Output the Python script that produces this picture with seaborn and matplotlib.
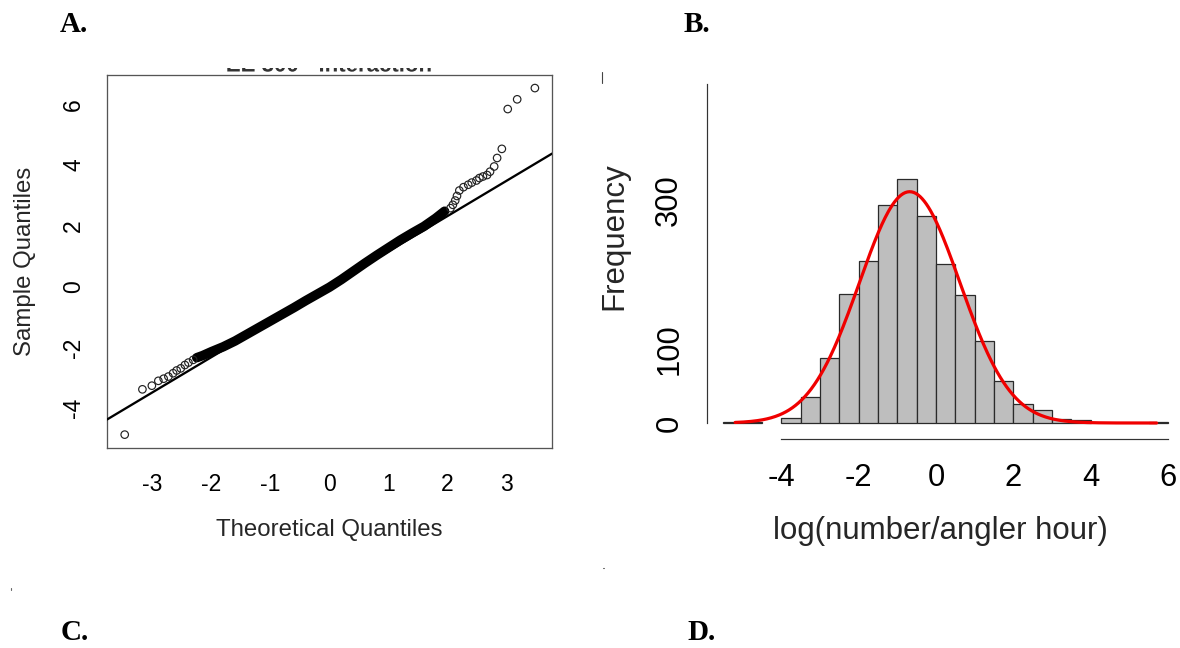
import numpy as np
import pandas as pd
import matplotlib
matplotlib.use("Agg")
import matplotlib.pyplot as plt
import seaborn as sns
from matplotlib.lines import Line2D
from matplotlib.patches import PathPatch
from matplotlib.textpath import TextPath
from matplotlib.font_manager import FontProperties
from matplotlib.transforms import Affine2D

# ---------------- Panel A: normal Q-Q plot ----------------
QQ_TITLE = "EE 300 - interaction"
QQ_TAIL_LOW_THEO = [-3.47, -3.17, -3.01, -2.90, -2.81, -2.73, -2.65, -2.59, -2.52, -2.45, -2.39, -2.31]
QQ_TAIL_LOW_SAMPLE = [-4.87, -3.38, -3.26, -3.10, -3.03, -2.96, -2.85, -2.76, -2.69, -2.58, -2.50, -2.41]
QQ_BAND_THEO = [-2.25, -2.15, -2.00, -1.80, -1.60, -1.40, -1.20, -1.00, -0.80, -0.60, -0.40, -0.20,
                0.00, 0.20, 0.40, 0.60, 0.80, 1.00, 1.20, 1.40, 1.60, 1.80, 1.95]
QQ_BAND_SAMPLE = [-2.34, -2.27, -2.14, -1.98, -1.79, -1.57, -1.35, -1.13, -0.91, -0.69, -0.46, -0.24,
                  -0.02, 0.23, 0.50, 0.77, 1.03, 1.28, 1.53, 1.76, 1.98, 2.25, 2.48]
QQ_TAIL_HIGH_THEO = [2.05, 2.09, 2.13, 2.16, 2.20, 2.27, 2.35, 2.41, 2.49, 2.54, 2.60, 2.67, 2.72,
                     2.79, 2.84, 2.92, 3.02, 3.18, 3.48]
QQ_TAIL_HIGH_SAMPLE = [2.58, 2.69, 2.83, 2.98, 3.16, 3.27, 3.35, 3.42, 3.49, 3.57, 3.62, 3.67, 3.78,
                       3.95, 4.23, 4.53, 5.84, 6.16, 6.53]
QQ_LINE_INTERCEPT = 0.0
QQ_LINE_SLOPE = 1.16
QQ_XTICKS = [-3, -2, -1, 0, 1, 2, 3]
QQ_YTICKS = [-4, -2, 0, 2, 4, 6]
QQ_XLABEL = "Theoretical Quantiles"
QQ_YLABEL = "Sample Quantiles"

# ---------------- Panel B: histogram with fitted normal curve ----------------
HIST_BIN_START = -5.5
HIST_BIN_WIDTH = 0.5
HIST_COUNTS = [1, 1, 0, 7, 35, 88, 173, 218, 293, 328, 278, 214, 172, 110, 56, 25, 17, 6, 4, 0, 0, 0, 2]
FIT_MEAN = -0.68
FIT_SD = 1.30
CURVE_X_MIN = -5.19
CURVE_X_MAX = 5.70
HIST_XTICKS = [-4, -2, 0, 2, 4, 6]
HIST_YTICKS = [0, 100, 200, 300, 400]
HIST_YTICK_LABELS = ["0", "100", "", "300", ""]
HIST_XLABEL = "log(number/angler hour)"
HIST_YLABEL = "Frequency"

PANEL_LETTERS = ["A.", "B.", "C.", "D."]

# ---------------- style ----------------
sns.set_style("white")
plt.rcParams['font.family'] = ['Liberation Sans', 'DejaVu Sans']

W, H = 1180, 648
PX = 72.0 / 100.0  # points per pixel


def fx(x):
    return x / W


def fy(y):
    return 1 - y / H


fig = plt.figure(figsize=(W / 100, H / 100), dpi=100)

# ======== Panel A ========
axA = fig.add_axes([fx(107), fy(448), (552 - 107) / W, (448 - 75) / H])
band = pd.DataFrame({"theo": QQ_BAND_THEO, "sample": QQ_BAND_SAMPLE})
sns.lineplot(data=band, x="theo", y="sample", ax=axA, color="black", linewidth=9.5 * PX,
             sort=False, estimator=None, solid_capstyle="round", zorder=2)
tails = pd.DataFrame({"theo": QQ_TAIL_LOW_THEO + QQ_TAIL_HIGH_THEO,
                      "sample": QQ_TAIL_LOW_SAMPLE + QQ_TAIL_HIGH_SAMPLE})
sns.scatterplot(data=tails, x="theo", y="sample", ax=axA, marker="o", s=(5.4) ** 2,
                facecolors="none", edgecolor="#222222", linewidth=0.85, zorder=3)
for coll in axA.collections:
    coll.set_facecolor("none")
axA.axline((0, QQ_LINE_INTERCEPT), slope=QQ_LINE_SLOPE, color="black", linewidth=2.3 * PX, zorder=4)

axA.set_xlim(-3.77, 3.77)
axA.set_ylim(-5.31, 6.96)
axA.set_xticks(QQ_XTICKS)
axA.set_xticklabels([str(v) for v in QQ_XTICKS])
axA.set_yticks(QQ_YTICKS)
axA.set_yticklabels([str(v) for v in QQ_YTICKS])
for sp in axA.spines.values():
    sp.set_visible(True)
    sp.set_color("#555555")
    sp.set_linewidth(1.3 * PX)
axA.tick_params(axis="both", direction="out", length=11 * PX, width=1.2 * PX, color="#555555",
                labelsize=16.5, labelcolor="black")
axA.tick_params(axis="x", pad=10.4)
axA.tick_params(axis="y", pad=7.9)
for lab in axA.get_yticklabels():
    lab.set_rotation(90)
    lab.set_va("center")
    lab.set_ha("right")
axA.set_xlabel(QQ_XLABEL, fontsize=17.3)
axA.set_ylabel(QQ_YLABEL, fontsize=17.3)
axA.xaxis.label.set_va("center")
axA.xaxis.set_label_coords(0.5, (448 - 530) / 373)
axA.yaxis.label.set_va("center")
axA.yaxis.set_label_coords((25 - 107) / 445, 0.5)

# cropped remnant of the panel title: only the bottom few pixels remain visible.
# A strip axes (pixel coordinates, y downwards) clips the glyph outlines.
axT = fig.add_axes([fx(190), fy(72.5), (470 - 190) / W, (72.5 - 67.8) / H])
axT.set_axis_off()
axT.set_xlim(190, 470)
axT.set_ylim(72.5, 67.8)
fp = FontProperties(family="Liberation Sans", weight="bold", size=16)
tpath = TextPath((0, 0), QQ_TITLE, prop=fp)
ext = tpath.get_extents()
s = 100.0 / 72.0
tr = Affine2D().translate(-(ext.x0 + ext.width / 2), 0).scale(s, -s).translate(329, 71.5)
axT.add_patch(PathPatch(tpath, transform=tr + axT.transData, facecolor="#333333",
                        edgecolor="none"))

# ======== Panel B ========
edges = [HIST_BIN_START + HIST_BIN_WIDTH * i for i in range(len(HIST_COUNTS) + 1)]
hist_df = pd.DataFrame({
    "value": [e + HIST_BIN_WIDTH / 2 for e in edges[:-1]],
    "count": [float(c) for c in HIST_COUNTS],
})

axB = fig.add_axes([fx(706.7), fy(438.5), (1175 - 706.7) / W, (438.5 - 84) / H])
sns.histplot(data=hist_df, x="value", weights="count", bins=edges, stat="count", ax=axB,
             color="#BEBEBE", edgecolor="#2a2a2a", linewidth=1.25 * PX, alpha=1.0)
for p in list(axB.patches):
    if p.get_height() == 0:
        p.remove()

n_obs = float(sum(HIST_COUNTS))
grid = np.linspace(CURVE_X_MIN, CURVE_X_MAX, 400)
dens = n_obs * HIST_BIN_WIDTH * np.exp(-0.5 * ((grid - FIT_MEAN) / FIT_SD) ** 2) / (FIT_SD * np.sqrt(2 * np.pi))
sns.lineplot(x=grid, y=dens, ax=axB, color="#F00000", linewidth=3.2 * PX, zorder=5)

axB.set_xlim((706.7 - 936) / 38.7, (1175 - 936) / 38.7)
axB.set_ylim((423 - 438.5) / 0.7433, (423 - 84) / 0.7433)
axB.set_xticks(HIST_XTICKS)
axB.set_xticklabels([str(v) for v in HIST_XTICKS])
axB.set_yticks(HIST_YTICKS)
axB.set_yticklabels(HIST_YTICK_LABELS)
axB.spines["top"].set_visible(False)
axB.spines["right"].set_visible(False)
axB.spines["left"].set_bounds(0, (423 - 84) / 0.7433)
axB.spines["bottom"].set_bounds(HIST_XTICKS[0], HIST_XTICKS[-1])
for k in ["left", "bottom"]:
    axB.spines[k].set_color("#333333")
    axB.spines[k].set_linewidth(1.2 * PX)
axB.tick_params(axis="both", direction="out", length=13 * PX, width=1.2 * PX, color="#333333",
                labelsize=22.3, labelcolor="black")
axB.tick_params(axis="x", pad=8.6)
axB.tick_params(axis="y", pad=6.8)
for lab in axB.get_yticklabels():
    lab.set_rotation(90)
    lab.set_va("center")
    lab.set_ha("right")
axB.set_xlabel(HIST_XLABEL, fontsize=22.5)
axB.set_ylabel(HIST_YLABEL, fontsize=22.5)
axB.xaxis.label.set_va("center")
axB.xaxis.set_label_coords(0.5, (438.5 - 531) / 354.5)
axB.yaxis.label.set_va("center")
axB.yaxis.set_label_coords((614 - 706.7) / 468.3, (438.5 - 236) / 354.5)

# ======== panel letters ========
letter_pos = [(60, 32), (684, 32), (61, 640), (687, 640)]
for lbl, (lx, ly) in zip(PANEL_LETTERS, letter_pos):
    fig.text(fx(lx), fy(ly), lbl, ha="left", va="baseline", fontsize=21, fontweight="bold",
             family=["Liberation Serif", "DejaVu Serif"], color="black")

# small stray marks present in the composite image
fig.add_artist(Line2D([fx(601.5), fx(601.5)], [fy(72), fy(83)], color="#444444", linewidth=0.8))
fig.add_artist(Line2D([fx(603), fx(604)], [fy(568), fy(568)], color="#666666", linewidth=0.8))
fig.add_artist(Line2D([fx(11), fx(11)], [fy(588), fy(590)], color="#666666", linewidth=0.8))

fig.savefig("out.png", dpi=100)
